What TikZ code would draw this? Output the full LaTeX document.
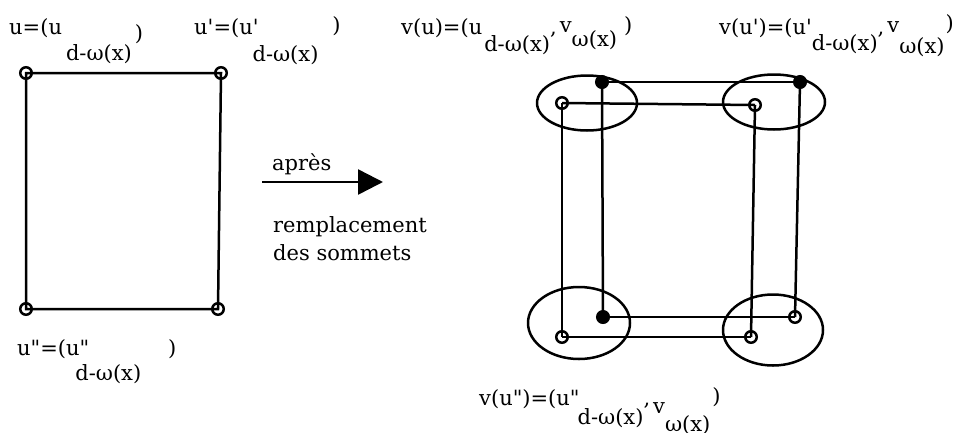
\documentclass[tikz,border=0pt]{standalone}
\usepackage{fontspec}
\newfontfamily\lblfont{DejaVu Serif}
\usetikzlibrary{shapes.geometric,arrows.meta}
\begin{document}
\begin{tikzpicture}[x=1pt,y=-1pt,
  lbl/.style={font=\lblfont\fontsize{21}{25}\selectfont, inner sep=0pt, anchor=base west},
  opendot/.style={circle, draw, line width=2.5pt, minimum size=11.5pt, inner sep=0pt},
  fulldot/.style={circle, draw, fill=black, line width=1pt, minimum size=13pt, inner sep=0pt},
  wire/.style={line width=2.5pt},
  cluster/.style={ellipse, draw, line width=2.5pt, inner sep=0pt}]
\fill[white] (0,0) rectangle (966,432);
\useasboundingbox (0,0) rectangle (966,432);

% left rectangle
\node[opendot] (r1) at (26,73) {};
\node[opendot] (r2) at (221,73) {};
\node[opendot] (r3) at (26,309) {};
\node[opendot] (r4) at (218,309) {};
\draw[wire] (r1.center) -- (r2.center) -- (r4.center) -- (r3.center) -- cycle;

% left labels
\node[lbl] (lu) at (9,34) {u=(u\hspace{4pt}\raisebox{-26pt}{d-ω(x)}\hspace{3pt}\raisebox{-6pt}{)}};
\node[lbl] (lu1) at (194,34) {u'=(u'\hspace{-6pt}\raisebox{-27pt}{d-ω(x)}\hspace{14pt}\raisebox{2pt}{)}};
\node[lbl] (lu2) at (17,355) {u"=(u"\hspace{-14pt}\raisebox{-25pt}{d-ω(x)}\hspace{27pt})};

% arrow and its texts
\coordinate (a1) at (262,182);
\coordinate (a2) at (383,182);
\draw[wire,-{Triangle[length=25pt,width=25pt]}] (a1) -- (a2);
\node[lbl] (apres) at (272,170) {après};
\node[lbl] (rempl) at (273,232) {remplacement};
\node[lbl] (somm) at (273,260) {des sommets};

% clusters
\node[cluster, minimum width=100pt, minimum height=55pt] (e1) at (587,103) {};
\node[cluster, minimum width=102pt, minimum height=55pt] (e2) at (774,102) {};
\node[cluster, minimum width=102pt, minimum height=72pt] (e3) at (579,323) {};
\node[cluster, minimum width=100pt, minimum height=71pt] (e4) at (773,330) {};

% dots
\node[opendot] (o1) at (562,103) {};
\node[fulldot] (f1) at (602,82) {};
\node[opendot] (o2) at (755,105) {};
\node[fulldot] (f2) at (800,82) {};
\node[fulldot] (f3) at (603,317) {};
\node[opendot] (o3) at (562,337) {};
\node[opendot] (o4) at (751,337) {};
\node[opendot] (o5) at (795,317) {};

% wires
\draw[wire] (o1.center) -- (o2.center);
\draw[wire] (f1.center) -- (f2.center);
\draw[wire] (o1.center) -- (o3.center);
\draw[wire] (f1.center) -- (f3.center);
\draw[wire] (o2.center) -- (o4.center);
\draw[wire] (f2.center) -- (o5.center);
\draw[wire] (f3.center) -- (o5.center);
\draw[wire] (o3.center) -- (o4.center);

% right labels
\node[lbl] (lv) at (401,34) {v(u)=(u\hspace{2pt}\raisebox{-17pt}{d-ω(x)},\hspace{3pt}\raisebox{2pt}{v}\hspace{0pt}\raisebox{-12pt}{ω(x)}\hspace{7pt}\raisebox{2pt}{)}};
\node[lbl] (lv1) at (719,34) {v(u')=(u'\hspace{0pt}\raisebox{-16pt}{d-ω(x)},\hspace{3pt}\raisebox{2pt}{v}\hspace{0pt}\raisebox{-19pt}{ω(x)}\hspace{1pt}\raisebox{4pt}{)}};
\node[lbl] (lv2) at (479,405) {v(u")=(u"\hspace{-2pt}\raisebox{-19pt}{d-ω(x)},\hspace{3pt}\raisebox{-8pt}{v}\hspace{0pt}\raisebox{-26pt}{ω(x)}\hspace{2pt}\raisebox{2pt}{)}};
\end{tikzpicture}
\end{document}
